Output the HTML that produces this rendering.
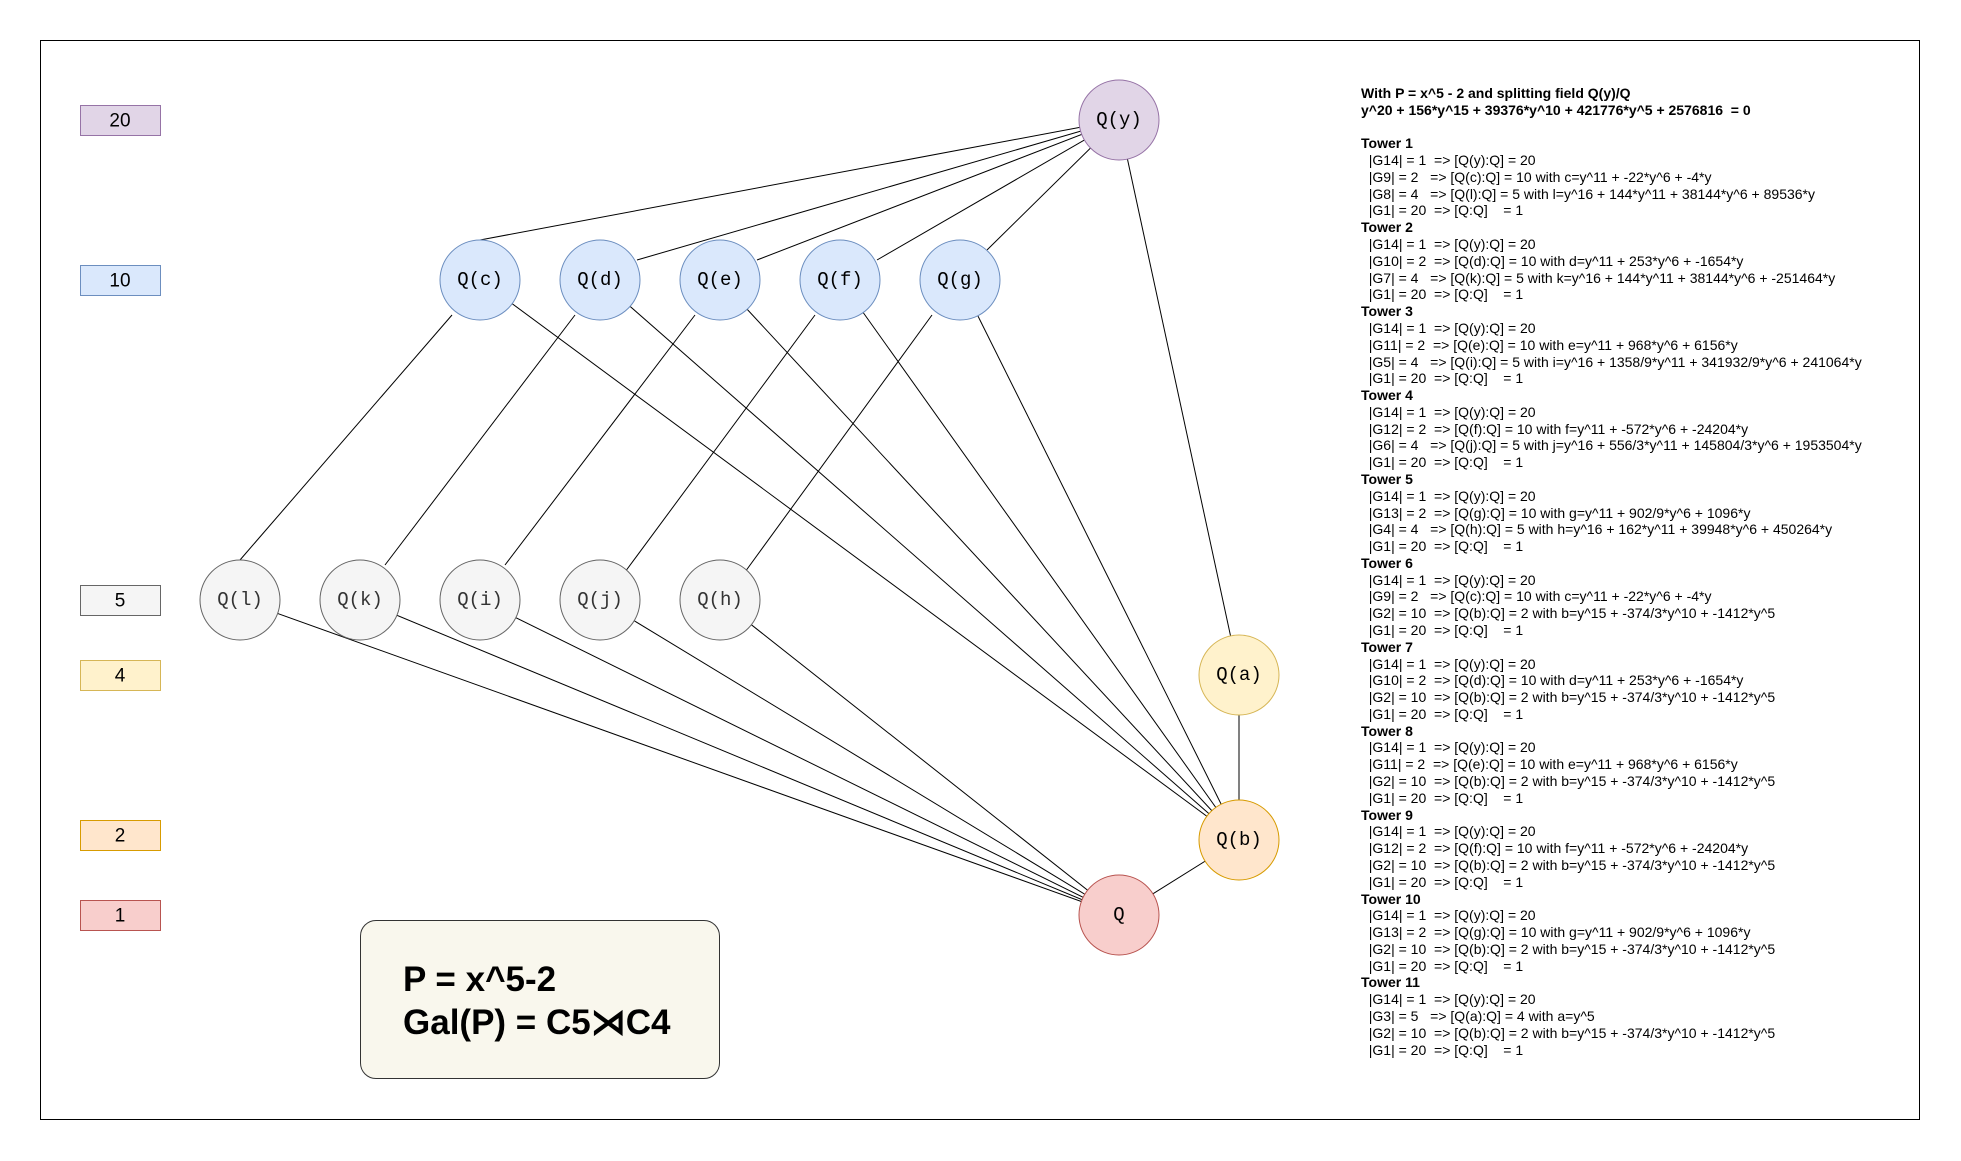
<!DOCTYPE html>
<html><head><meta charset="utf-8"><style>
body{margin:0;background:#fff;width:1961px;height:1161px;overflow:hidden;position:relative;font-family:"Liberation Sans",sans-serif}
.txt{position:absolute;left:1361px;top:85px;font-size:14px;line-height:16.78px;white-space:pre;color:#000}
.b{font-weight:bold}
.big{position:absolute;left:360px;top:920px;width:360px;height:159px;border:1px solid #333;border-radius:16px;background:#f9f7ed;box-sizing:border-box}
.big div{position:absolute;left:42px;font-weight:bold;font-size:35px;white-space:nowrap}
</style></head><body>
<svg width="1961" height="1161" style="position:absolute;left:0;top:0">
<rect x="40.5" y="40.5" width="1879" height="1079" fill="none" stroke="#000" stroke-width="1"/>
<g stroke="#000" stroke-width="1">
<line x1="1119" y1="120" x2="480" y2="240"/><line x1="1119" y1="120" x2="637" y2="260"/><line x1="1119" y1="120" x2="757" y2="260"/><line x1="1119" y1="120" x2="877" y2="260"/><line x1="1119" y1="120" x2="987" y2="250"/><line x1="1119" y1="120" x2="1239" y2="675"/>
<line x1="452" y1="315" x2="240" y2="560"/><line x1="575" y1="315" x2="385" y2="565"/><line x1="695" y1="315" x2="505" y2="565"/><line x1="815" y1="315" x2="625" y2="572"/><line x1="932" y1="315" x2="745" y2="572"/>
<line x1="480" y1="280" x2="1239" y2="840"/><line x1="600" y1="280" x2="1239" y2="840"/><line x1="720" y1="280" x2="1239" y2="840"/><line x1="840" y1="280" x2="1239" y2="840"/><line x1="960" y1="280" x2="1239" y2="840"/>
<line x1="240" y1="600" x2="1119" y2="915"/><line x1="360" y1="600" x2="1119" y2="915"/><line x1="480" y1="600" x2="1119" y2="915"/><line x1="600" y1="600" x2="1119" y2="915"/><line x1="720" y1="600" x2="1119" y2="915"/>
<line x1="1239" y1="675" x2="1239" y2="840"/><line x1="1239" y1="840" x2="1119" y2="915"/>
</g>
<g font-family="Liberation Mono,monospace" font-size="19" text-anchor="middle" dominant-baseline="central">
<circle cx="1119" cy="120" r="40" fill="#e1d5e7" stroke="#9673a6"/><text x="1119" y="120">Q(y)</text>
<g fill="#dae8fc" stroke="#6c8ebf">
<circle cx="480" cy="280" r="40"/><circle cx="600" cy="280" r="40"/><circle cx="720" cy="280" r="40"/><circle cx="840" cy="280" r="40"/><circle cx="960" cy="280" r="40"/></g>
<text x="480" y="280">Q(c)</text><text x="600" y="280">Q(d)</text><text x="720" y="280">Q(e)</text><text x="840" y="280">Q(f)</text><text x="960" y="280">Q(g)</text>
<g fill="#f5f5f5" stroke="#666">
<circle cx="240" cy="600" r="40"/><circle cx="360" cy="600" r="40"/><circle cx="480" cy="600" r="40"/><circle cx="600" cy="600" r="40"/><circle cx="720" cy="600" r="40"/></g>
<g fill="#333"><text x="240" y="600">Q(l)</text><text x="360" y="600">Q(k)</text><text x="480" y="600">Q(i)</text><text x="600" y="600">Q(j)</text><text x="720" y="600">Q(h)</text></g>
<circle cx="1239" cy="675" r="40" fill="#fff2cc" stroke="#d6b656"/><text x="1239" y="675">Q(a)</text>
<circle cx="1239" cy="840" r="40" fill="#ffe6cc" stroke="#d79b00"/><text x="1239" y="840">Q(b)</text>
<circle cx="1119" cy="915" r="40" fill="#f8cecc" stroke="#b85450"/><text x="1119" y="915">Q</text>
</g>
<g font-family="Liberation Sans,sans-serif" font-size="19" text-anchor="middle" dominant-baseline="central">
<rect x="80.5" y="105.5" width="80" height="30" fill="#e1d5e7" stroke="#9673a6"/><text x="120" y="121">20</text>
<rect x="80.5" y="265.5" width="80" height="30" fill="#dae8fc" stroke="#6c8ebf"/><text x="120" y="281">10</text>
<rect x="80.5" y="585.5" width="80" height="30" fill="#f5f5f5" stroke="#666"/><text x="120" y="601">5</text>
<rect x="80.5" y="660.5" width="80" height="30" fill="#fff2cc" stroke="#d6b656"/><text x="120" y="676">4</text>
<rect x="80.5" y="820.5" width="80" height="30" fill="#ffe6cc" stroke="#d79b00"/><text x="120" y="836">2</text>
<rect x="80.5" y="900.5" width="80" height="30" fill="#f8cecc" stroke="#b85450"/><text x="120" y="916">1</text>
</g>
</svg>
<div class="big"><div style="top:39px">P = x^5-2</div><div style="top:82px">Gal(P) = C5⋊C4</div></div>
<div class="txt"><span class="b">With P = x^5 - 2 and splitting field Q(y)/Q
y^20 + 156*y^15 + 39376*y^10 + 421776*y^5 + 2576816  = 0</span>

<span class="b">Tower 1</span>
  |G14| = 1  => [Q(y):Q] = 20
  |G9| = 2   => [Q(c):Q] = 10 with c=y^11 + -22*y^6 + -4*y
  |G8| = 4   => [Q(l):Q] = 5 with l=y^16 + 144*y^11 + 38144*y^6 + 89536*y
  |G1| = 20  => [Q:Q]    = 1
<span class="b">Tower 2</span>
  |G14| = 1  => [Q(y):Q] = 20
  |G10| = 2  => [Q(d):Q] = 10 with d=y^11 + 253*y^6 + -1654*y
  |G7| = 4   => [Q(k):Q] = 5 with k=y^16 + 144*y^11 + 38144*y^6 + -251464*y
  |G1| = 20  => [Q:Q]    = 1
<span class="b">Tower 3</span>
  |G14| = 1  => [Q(y):Q] = 20
  |G11| = 2  => [Q(e):Q] = 10 with e=y^11 + 968*y^6 + 6156*y
  |G5| = 4   => [Q(i):Q] = 5 with i=y^16 + 1358/9*y^11 + 341932/9*y^6 + 241064*y
  |G1| = 20  => [Q:Q]    = 1
<span class="b">Tower 4</span>
  |G14| = 1  => [Q(y):Q] = 20
  |G12| = 2  => [Q(f):Q] = 10 with f=y^11 + -572*y^6 + -24204*y
  |G6| = 4   => [Q(j):Q] = 5 with j=y^16 + 556/3*y^11 + 145804/3*y^6 + 1953504*y
  |G1| = 20  => [Q:Q]    = 1
<span class="b">Tower 5</span>
  |G14| = 1  => [Q(y):Q] = 20
  |G13| = 2  => [Q(g):Q] = 10 with g=y^11 + 902/9*y^6 + 1096*y
  |G4| = 4   => [Q(h):Q] = 5 with h=y^16 + 162*y^11 + 39948*y^6 + 450264*y
  |G1| = 20  => [Q:Q]    = 1
<span class="b">Tower 6</span>
  |G14| = 1  => [Q(y):Q] = 20
  |G9| = 2   => [Q(c):Q] = 10 with c=y^11 + -22*y^6 + -4*y
  |G2| = 10  => [Q(b):Q] = 2 with b=y^15 + -374/3*y^10 + -1412*y^5
  |G1| = 20  => [Q:Q]    = 1
<span class="b">Tower 7</span>
  |G14| = 1  => [Q(y):Q] = 20
  |G10| = 2  => [Q(d):Q] = 10 with d=y^11 + 253*y^6 + -1654*y
  |G2| = 10  => [Q(b):Q] = 2 with b=y^15 + -374/3*y^10 + -1412*y^5
  |G1| = 20  => [Q:Q]    = 1
<span class="b">Tower 8</span>
  |G14| = 1  => [Q(y):Q] = 20
  |G11| = 2  => [Q(e):Q] = 10 with e=y^11 + 968*y^6 + 6156*y
  |G2| = 10  => [Q(b):Q] = 2 with b=y^15 + -374/3*y^10 + -1412*y^5
  |G1| = 20  => [Q:Q]    = 1
<span class="b">Tower 9</span>
  |G14| = 1  => [Q(y):Q] = 20
  |G12| = 2  => [Q(f):Q] = 10 with f=y^11 + -572*y^6 + -24204*y
  |G2| = 10  => [Q(b):Q] = 2 with b=y^15 + -374/3*y^10 + -1412*y^5
  |G1| = 20  => [Q:Q]    = 1
<span class="b">Tower 10</span>
  |G14| = 1  => [Q(y):Q] = 20
  |G13| = 2  => [Q(g):Q] = 10 with g=y^11 + 902/9*y^6 + 1096*y
  |G2| = 10  => [Q(b):Q] = 2 with b=y^15 + -374/3*y^10 + -1412*y^5
  |G1| = 20  => [Q:Q]    = 1
<span class="b">Tower 11</span>
  |G14| = 1  => [Q(y):Q] = 20
  |G3| = 5   => [Q(a):Q] = 4 with a=y^5
  |G2| = 10  => [Q(b):Q] = 2 with b=y^15 + -374/3*y^10 + -1412*y^5
  |G1| = 20  => [Q:Q]    = 1</div>
</body></html>
